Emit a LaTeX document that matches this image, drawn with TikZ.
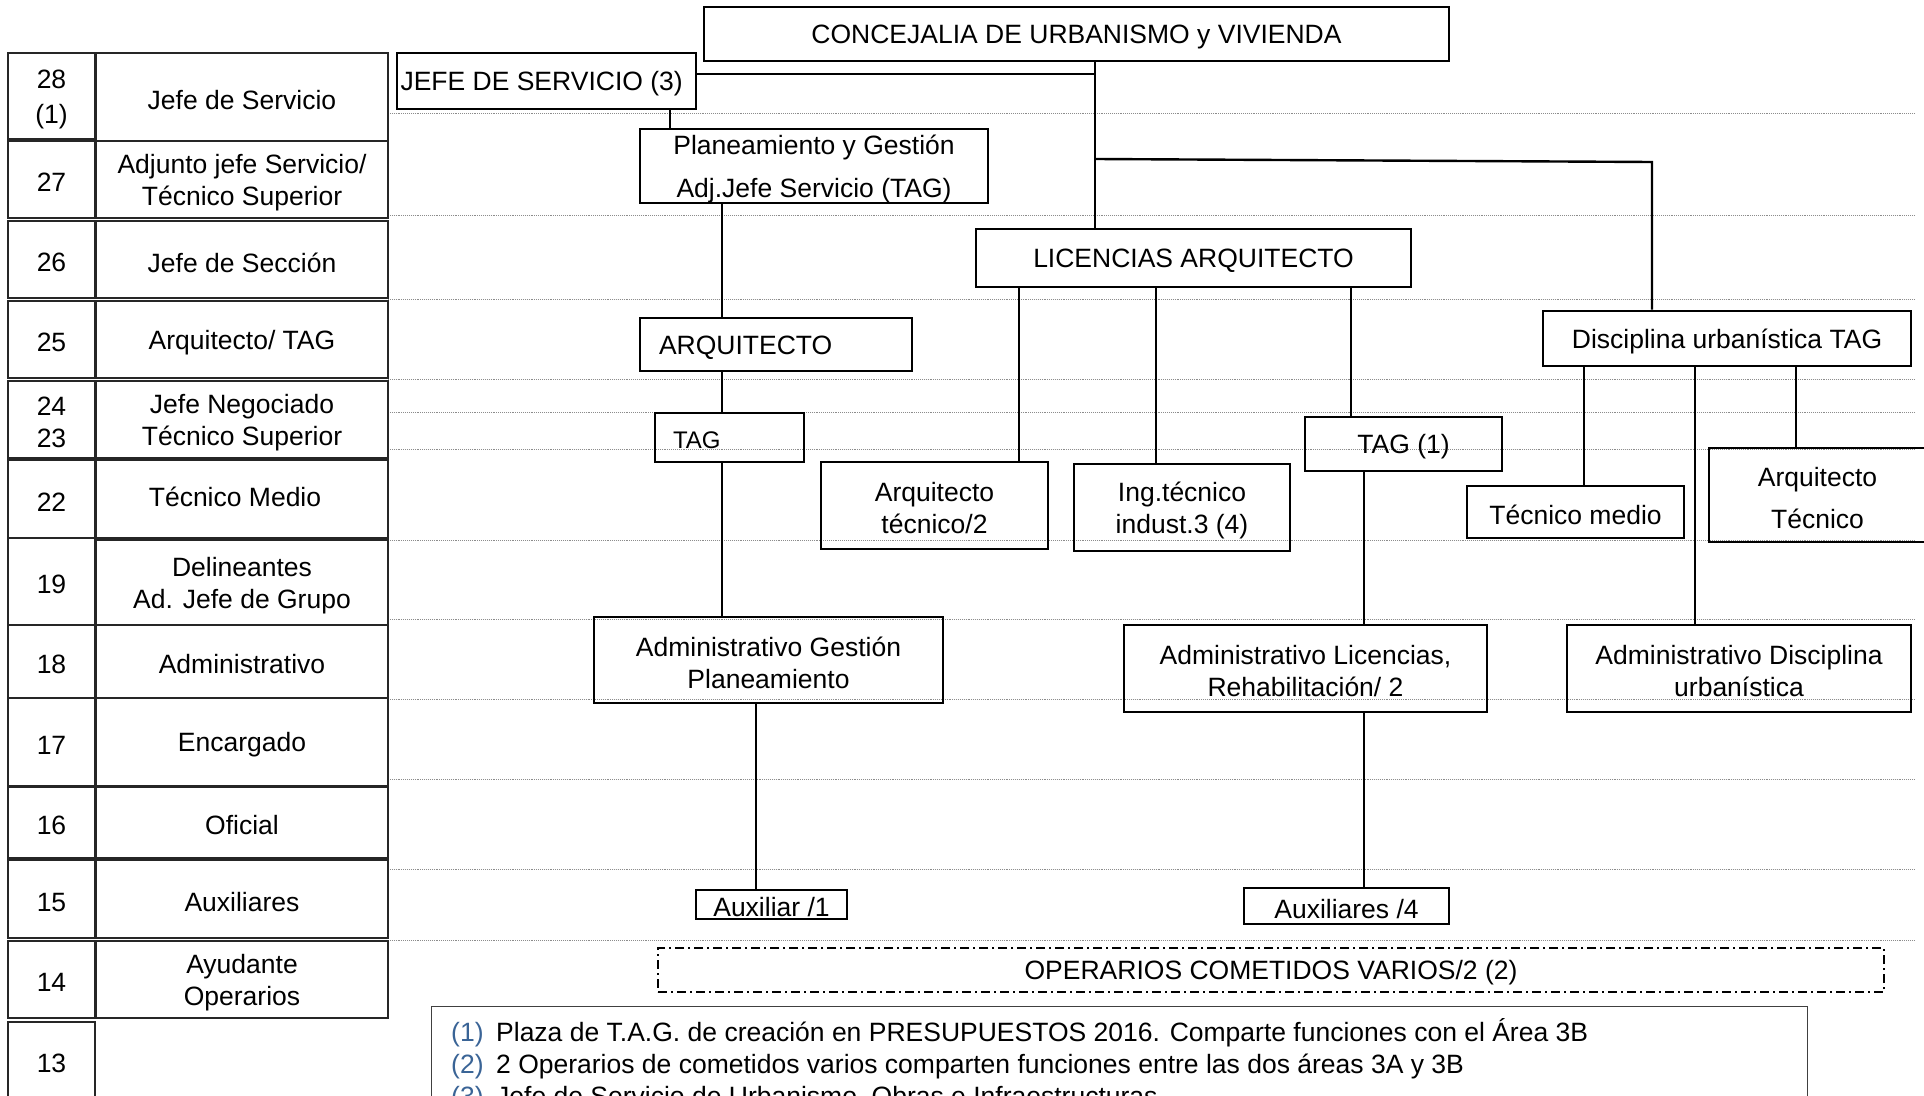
\documentclass[tikz,border=0pt]{standalone}
\usepackage{fontspec}
\setmainfont{Liberation Sans}
\newcommand\fs{\fontsize{26.5}{32}\selectfont}
\newcommand\fsm{\fontsize{24}{29}\selectfont}
\definecolor{noteblue}{RGB}{58,100,150}
\begin{document}
\begin{tikzpicture}[x=1pt,y=-1pt,
  box/.style={draw=black,line width=2.6pt,inner sep=0pt},
  cell/.style={draw=black!85,line width=1.4pt,inner sep=0pt},
  txt/.style={align=center,font=\fs,inner sep=0pt},
  conn/.style={line width=2.4pt,black},
  guide/.style={draw=black!45,line width=0.9pt,densely dotted},
  opbox/.style={box,dash pattern=on 9pt off 4pt on 2pt off 4pt,line width=2.4pt},
  notebox/.style={draw=black!75,line width=1.3pt,inner sep=0pt}]
\newcommand\bx[7][]{\node[minimum width={(#5-#3)*1pt},minimum height={(#6-#4)*1pt},#1] (#2) at ({(#3+#5)/2},{(#4+#6)/2}) {};
  \node[txt] (#2-t) at ([yshift=-3pt]#2.center) {#7};}
\useasboundingbox (0,0) rectangle (1924,1095);
\clip (0,0) rectangle (1924,1095);

% guide lines
\foreach \yy in {113,215,299,379,412,449,540,619,699,779,869,940}
  \draw[guide] (388,\yy) -- (1914,\yy);

% left table
\bx[cell]{n28}{8}{53}{95}{139}{28\\[3pt](1)}
\bx[cell]{t28}{96}{53}{388}{141}{Jefe de Servicio}
\bx[cell]{n27}{8}{141}{95}{218}{27}
\bx[cell]{t27}{96}{141}{388}{218}{Adjunto jefe Servicio/\\Técnico Superior}
\bx[cell]{n26}{8}{221}{95}{298}{26}
\bx[cell]{t26}{96}{221}{388}{298}{Jefe de Sección}
\bx[cell]{n25}{8}{301}{95}{378}{25}
\bx[cell]{t25}{96}{301}{388}{378}{Arquitecto/ TAG}
\bx[cell]{n24}{8}{381}{95}{458}{24\\23}
\bx[cell]{t24}{96}{381}{388}{458}{Jefe Negociado\\Técnico Superior}
\bx[cell]{n22}{8}{460}{95}{538}{22}
\bx[cell]{t22}{96}{460}{388}{538}{\raisebox{10pt}{Técnico Medio}\hspace*{14pt}}
\bx[cell]{n19}{8}{538}{95}{625}{19}
\bx[cell]{t19}{96}{540}{388}{625}{Delineantes\\Ad. Jefe de Grupo}
\bx[cell]{n18}{8}{625}{95}{698}{18}
\bx[cell]{t18}{96}{625}{388}{698}{Administrativo}
\bx[cell]{n17}{8}{698}{95}{786}{17}
\bx[cell]{t17}{96}{698}{388}{786}{Encargado}
\bx[cell]{n16}{8}{787}{95}{858}{16}
\bx[cell]{t16}{96}{787}{388}{858}{Oficial}
\bx[cell]{n15}{8}{860}{95}{938}{15}
\bx[cell]{t15}{96}{860}{388}{938}{Auxiliares}
\bx[cell]{n14}{8}{941}{95}{1018}{14}
\bx[cell]{t14}{96}{941}{388}{1018}{Ayudante\\Operarios}
\bx[cell]{n13}{8}{1022}{95}{1099}{13}

% chart boxes
\bx[box]{conc}{704}{7}{1449}{61}{CONCEJALIA DE URBANISMO y VIVIENDA}
\bx[box]{jefe}{397}{53}{696}{109}{\makebox[292pt][l]{JEFE DE SERVICIO (3)}}
\bx[box]{plan}{640}{129}{988}{203}{Planeamiento y Gestión\\[11pt]Adj.Jefe Servicio (TAG)}
\bx[box]{lic}{976}{229}{1411}{287}{LICENCIAS ARQUITECTO}
\bx[box]{arq}{640}{318}{912}{371}{\makebox[234pt][l]{ARQUITECTO}}
\bx[box]{tagl}{655}{413}{804}{462}{\fsm\makebox[113pt][l]{TAG}}
\bx[box]{arqt}{821}{462}{1048}{549}{Arquitecto\\técnico/2}
\bx[box]{ing}{1074}{464}{1290}{551}{Ing.técnico\\indust.3 (4)}
\bx[box]{tagi}{1305}{417}{1502}{471}{TAG (1)}
\bx[box]{disc}{1543}{311}{1911}{366}{Disciplina urbanística TAG}
\bx[box]{tmed}{1467}{486}{1684}{538}{Técnico medio}
\bx[box]{arqT}{1709}{448}{1926}{542}{Arquitecto\\[10pt]Técnico}
\bx[box]{admg}{594}{617}{943}{703}{Administrativo Gestión\\Planeamiento}
\bx[box]{adml}{1124}{625}{1487}{712}{Administrativo Licencias,\\Rehabilitación/ 2}
\bx[box]{admd}{1567}{625}{1911}{712}{Administrativo Disciplina\\urbanística}
\bx[box]{auxa}{696}{890}{847}{919}{Auxiliar /1}
\bx[box]{auxb}{1244}{888}{1449}{924}{Auxiliares /4}
\bx[opbox]{oper}{658}{948}{1884}{992}{OPERARIOS COMETIDOS VARIOS/2 (2)}

% junction coordinates
\coordinate (jv) at (1095,74);
\coordinate (br1) at (1096,159);
\coordinate (br2) at (1652,162);
\coordinate (xa) at (670,0);
\coordinate (xb) at (722,0);
\coordinate (xc) at (756,0);
\coordinate (xd) at (1019,0);
\coordinate (xe) at (1156,0);
\coordinate (xf) at (1351,0);
\coordinate (xg) at (1364,0);
\coordinate (xh) at (1584,0);
\coordinate (xi) at (1695,0);
\coordinate (xj) at (1796,0);

% connectors
\draw[conn] (conc.south -| jv) -- (lic.north -| jv);
\draw[conn] (jefe.east |- jv) -- (jv);
\draw[conn] (br1) -- (br2) -- (disc.north -| br2);
\draw[conn] (jefe.south -| xa) -- (plan.north -| xa);
\draw[conn] (plan.south -| xb) -- (arq.north -| xb);
\draw[conn] (arq.south -| xb) -- (tagl.north -| xb);
\draw[conn] (tagl.south -| xb) -- (admg.north -| xb);
\draw[conn] (admg.south -| xc) -- (auxa.north -| xc);
\draw[conn] (lic.south -| xd) -- (arqt.north -| xd);
\draw[conn] (lic.south -| xe) -- (ing.north -| xe);
\draw[conn] (lic.south -| xf) -- (tagi.north -| xf);
\draw[conn] (tagi.south -| xg) -- (adml.north -| xg);
\draw[conn] (adml.south -| xg) -- (auxb.north -| xg);
\draw[conn] (disc.south -| xh) -- (tmed.north -| xh);
\draw[conn] (disc.south -| xi) -- (admd.north -| xi);
\draw[conn] (disc.south -| xj) -- (arqT.north -| xj);

% notes
\node[notebox,anchor=north west,minimum width=1376pt,minimum height=120pt] (notes) at (431,1006) {};
\node[anchor=base west,font=\fs,inner sep=0pt] (f1) at (451,1041) {\makebox[45pt][l]{\color{noteblue}(1)}Plaza de T.A.G. de creación en PRESUPUESTOS 2016. Comparte funciones con el Área 3B};
\node[anchor=base west,font=\fs,inner sep=0pt] (f2) at (451,1073) {\makebox[45pt][l]{\color{noteblue}(2)}2 Operarios de cometidos varios comparten funciones entre las dos áreas 3A y 3B};
\node[anchor=base west,font=\fs,inner sep=0pt] (f3) at (451,1105) {\makebox[45pt][l]{\color{noteblue}(3)}Jefe de Servicio de Urbanismo, Obras e Infraestructuras};
\end{tikzpicture}
\end{document}
